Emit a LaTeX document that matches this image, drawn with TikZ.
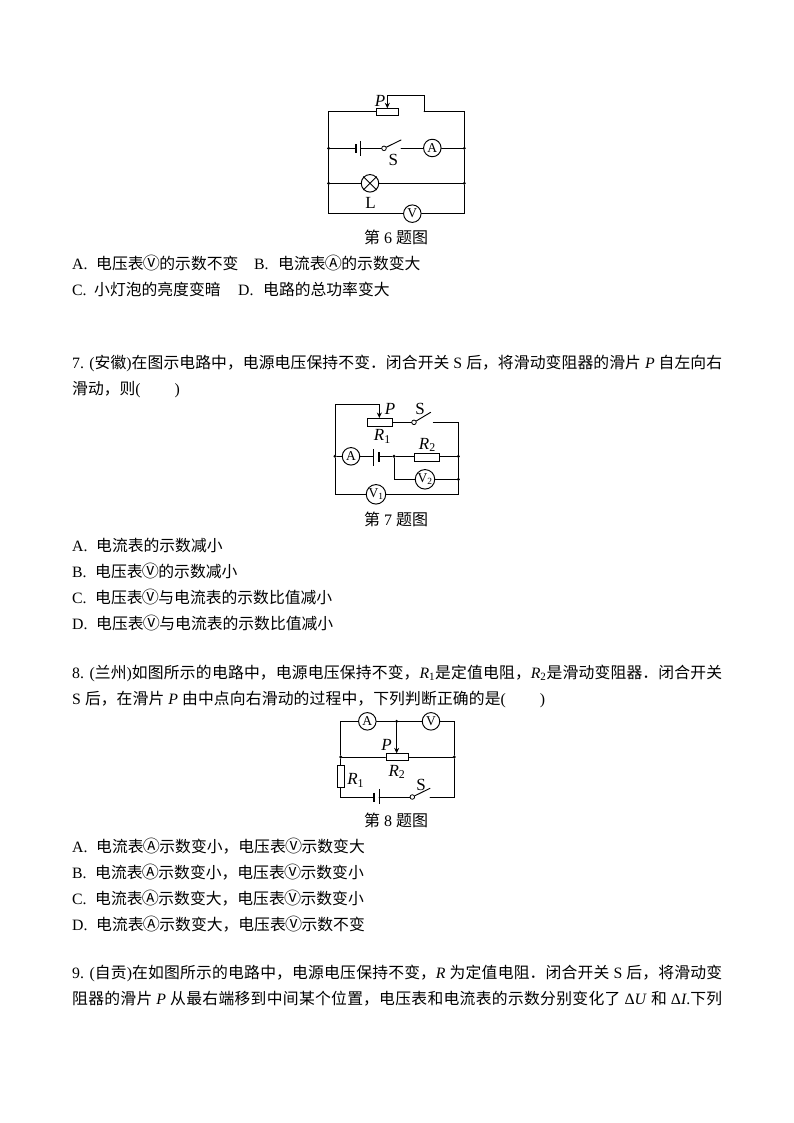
\documentclass[tikz,border=0pt]{standalone}
\usepackage{fontspec}
\setmainfont{Liberation Serif}
\newfontfamily\cjk{Noto Sans CJK SC}
\usetikzlibrary{arrows.meta}
\newcommand{\zh}[1]{{\cjk #1}}
\newcommand{\cV}{\makebox[15.8pt]{\cjk\scalebox{1.08}{Ⓥ}}}
\newcommand{\cA}{\makebox[15.8pt]{\cjk\scalebox{1.08}{Ⓐ}}}
\newcommand{\fitl}[2]{\parbox[b]{#1pt}{\tolerance=10000 \hbadness=10000 \hfuzz=20pt \parindent=0pt \parfillskip=0pt #2}}
\XeTeXlinebreaklocale "zh"
\XeTeXlinebreakskip=0pt plus 4pt minus 0.7pt
\tikzset{
 wire/.style={line width=0.95pt,line cap=round},
 arrowwire/.style={wire,-{Stealth[length=5.5pt,width=5pt]}},
 txt/.style={anchor=base west,inner sep=0pt,font=\fontsize{15.8}{18}\selectfont},
 ttl/.style={anchor=center,inner sep=0pt,font=\fontsize{16}{18}\selectfont},
 lab/.style={anchor=center,inner sep=0pt,font=\fontsize{17}{19}\selectfont},
 meter/.style={circle,draw,line width=0.95pt,inner sep=0pt,minimum size=17.5pt,font=\fontsize{13.5}{13}\selectfont,fill=white},
 jdot/.style={circle,fill=black,inner sep=0pt,minimum size=3.2pt},
 swdot/.style={circle,draw,line width=0.8pt,inner sep=0pt,minimum size=4.6pt,fill=white},
 box/.style={rectangle,draw,line width=0.95pt,inner sep=0pt,fill=white},
 plate/.style={line width=0.95pt},
 thick plate/.style={line width=1.7pt},
 zoomA/.style={shift={(300,85)},x=0.3333pt,y=-0.3333pt},
 zoomB/.style={shift={(310,395)},x=0.3333pt,y=-0.3333pt},
 zoomC/.style={shift={(320,705)},x=0.3333pt,y=-0.3333pt},
}
\begin{document}
\begin{tikzpicture}[x=1pt,y=-1pt]
\useasboundingbox[fill=white] (0,0) rectangle (794,1123);
% ---------- Figure 6
\begin{scope}[zoomA]
\coordinate (a1) at (86,80); \coordinate (a2) at (493,80);
\coordinate (a3) at (372,80); \coordinate (a4) at (372,30); \coordinate (a5) at (262,30);
\node[box,minimum width=21.7pt,minimum height=6.7pt] (arh) at (262.5,80) {};
\coordinate (arht) at (262,70);
\node[jdot] (ad1) at (86,190) {}; \node[jdot] (ad2) at (493,190) {};
\node[jdot] (ad3) at (86,295) {}; \node[jdot] (ad4) at (493,295) {};
\coordinate (a6) at (86,386); \coordinate (a7) at (493,386);
\coordinate (abL) at (168,190); \coordinate (abLt) at (168,178); \coordinate (abLb) at (168,203);
\coordinate (abR) at (182,190); \coordinate (abRt) at (182,168); \coordinate (abRb) at (182,212);
\node[swdot] (asw) at (252,190) {};
\coordinate (abl) at (303,165); \coordinate (asw2) at (303,190);
\node[meter] (aA) at (397,189) {A};
\node[meter] (aV) at (337,386) {V};
\node[circle,draw,line width=0.95pt,inner sep=0pt,minimum size=17.5pt,fill=white] (aL) at (210,295) {};
\draw[wire] (ad1) -- (a1) -- (arh.west);
\draw[wire] (a3) -- (a2) -- (ad2);
\draw[wire] (ad1) -- (ad3) -- (a6) -- (aV) -- (a7) -- (ad4) -- (ad2);
\draw[arrowwire] (a3) -- (a4) -- (a5) -- (arht);
\draw[wire] (ad1) -- (abL); \draw[wire] (abR) -- (asw);
\draw[thick plate] (abLt) -- (abLb); \draw[plate] (abRt) -- (abRb);
\draw[wire] (asw) -- (abl); \draw[wire] (asw2) -- (aA.west |- asw2); \draw[wire] (aA.east |- ad2) -- (ad2);
\draw[wire] (ad3) -- (aL) -- (ad4);
\draw[wire] (aL.45) -- (aL.225); \draw[wire] (aL.135) -- (aL.315);
\node[lab] (aPl) at (240,47) {\textit{P}};
\node[lab] (aSl) at (280,226) {S};
\node[lab] (aLl) at (212,353) {L};
\end{scope}
\node[ttl] (t6) at (396,237) {\zh{第} 6 \zh{题图}};
\node[txt] (o6a) at (72,269) {A.};
\node[txt] (o6at) at (96,269) {\zh{电压表\cV 的示数不变}};
\node[txt] (o6b) at (254,269) {B.};
\node[txt] (o6bt) at (278,269) {\zh{电流表\cA 的示数变大}};
\node[txt] (o6c) at (72,295) {C.};
\node[txt] (o6ct) at (94,295) {\zh{小灯泡的亮度变暗}};
\node[txt] (o6d) at (238,295) {D.};
\node[txt] (o6dt) at (263,295) {\zh{电路的总功率变大}};
% ---------- Question 7
\node[txt] (q7a) at (72,368) {\fitl{650}{7. (\zh{安徽})\zh{在图示电路中，电源电压保持不变．闭合开关} S \zh{后，将滑动变阻器的滑片} \textit{P} \zh{自左向右}}};
\node[txt] (q7b) at (72,394) {\zh{滑动，则}(\hspace{34pt})};
\begin{scope}[zoomB]
\coordinate (b1) at (75,28); \coordinate (b2) at (208,28); \coordinate (b3) at (208,69);
\node[box,minimum width=25pt,minimum height=7.6pt] (brh) at (209.5,82.5) {};
\node[swdot] (bsw) at (312,82) {};
\coordinate (bbl) at (362,52); \coordinate (bsw2) at (370,82); \coordinate (b4) at (445,82);
\node[jdot] (bd1) at (75,184) {}; \node[jdot] (bd2) at (252,184) {};
\node[jdot] (bd3) at (445,184) {}; \node[jdot] (bd4) at (445,253) {};
\node[meter] (bA) at (123,184) {A};
\coordinate (bbL) at (190,184); \coordinate (bbLt) at (190,163); \coordinate (bbLb) at (190,213);
\coordinate (bbR) at (206,184); \coordinate (bbRt) at (206,172); \coordinate (bbRb) at (206,200);
\node[box,minimum width=25pt,minimum height=8pt] (bR2) at (351,186) {};
\coordinate (b5) at (252,253);
\node[meter,minimum size=19.5pt] (bV2) at (345,253) {V\textsubscript{2}};
\coordinate (b6) at (75,298); \coordinate (b7) at (445,298);
\node[meter,minimum size=19.5pt] (bV1) at (198,298) {V\textsubscript{1}};
\draw[arrowwire] (bd1) -- (b1) -- (b2) -- (b3);
\draw[wire] (bd1) -- (b6) -- (bV1) -- (b7) -- (bd4) -- (bd3) -- (b4) -- (bsw2);
\draw[wire] (brh.east |- bsw) -- (bsw); \draw[wire] (bsw) -- (bbl);
\draw[wire] (bd1) -- (bA) -- (bbL);
\draw[plate] (bbLt) -- (bbLb); \draw[thick plate] (bbRt) -- (bbRb);
\draw[wire] (bbR) -- (bd2) -- (bR2.west |- bd2); \draw[wire] (bR2.east |- bd3) -- (bd3);
\draw[wire] (bd2) -- (b5) -- (bV2) -- (bd4);
\node[lab] (bPl) at (240,42) {\textit{P}};
\node[lab] (bSl) at (330,42) {S};
\node[lab] (bR1l) at (217,124) {\textit{R}\textsubscript{1}};
\node[lab] (bR2l) at (352,150) {\textit{R}\textsubscript{2}};
\end{scope}
\node[ttl] (t7) at (396,519) {\zh{第} 7 \zh{题图}};
\node[txt] (o7a) at (72,551) {A.};
\node[txt] (o7at) at (96,551) {\zh{电流表的示数减小}};
\node[txt] (o7b) at (72,577) {B.};
\node[txt] (o7bt) at (95,577) {\zh{电压表\cV 的示数减小}};
\node[txt] (o7c) at (72,603) {C.};
\node[txt] (o7ct) at (95,603) {\zh{电压表\cV 与电流表的示数比值减小}};
\node[txt] (o7d) at (72,629) {D.};
\node[txt] (o7dt) at (96,629) {\zh{电压表\cV 与电流表的示数比值减小}};
% ---------- Question 8
\node[txt] (q8a) at (72,678) {\fitl{650}{8. (\zh{兰州})\zh{如图所示的电路中，电源电压保持不变，}\textit{R}\textsubscript{1}\zh{是定值电阻，}\textit{R}\textsubscript{2}\zh{是滑动变阻器．闭合开关}}};
\node[txt] (q8b) at (72,704) {\fitl{473}{S \zh{后，在滑片} \textit{P} \zh{由中点向右滑动的过程中，下列判断正确的是}(\hspace{34pt})}};
\begin{scope}[zoomC]
\coordinate (c1) at (62,49); \coordinate (c2) at (403,49);
\node[meter] (cA) at (142,49) {A};
\node[meter] (cV) at (333,49) {V};
\node[jdot] (cd1) at (230,49) {};
\node[jdot] (cd2) at (62,156) {}; \node[jdot] (cd3) at (403,156) {};
\node[box,minimum width=22.7pt,minimum height=6.7pt] (crh) at (232,156) {};
\coordinate (c3) at (230,145);
\node[box,minimum width=7pt,minimum height=22.3pt] (cR1) at (62.5,213.5) {};
\coordinate (c4) at (62,276); \coordinate (c5) at (403,276);
\coordinate (cbL) at (162,276); \coordinate (cbLt) at (162,263); \coordinate (cbLb) at (162,290);
\coordinate (cbR) at (177,276); \coordinate (cbRt) at (177,253); \coordinate (cbRb) at (177,298);
\node[swdot] (csw) at (277,276) {};
\coordinate (cbl) at (330,250); \coordinate (csw2) at (330,276);
\draw[wire] (cd2) -- (c1) -- (cA) -- (cd1) -- (cV) -- (c2) -- (cd3);
\draw[arrowwire] (cd1) -- (c3);
\draw[wire] (cd2) -- (crh) -- (cd3);
\draw[wire] (cd2) -- (cd2 |- cR1.north); \draw[wire] (cd2 |- cR1.south) -- (c4) -- (cbL);
\draw[thick plate] (cbLt) -- (cbLb); \draw[plate] (cbRt) -- (cbRb);
\draw[wire] (cbR) -- (csw); \draw[wire] (csw) -- (cbl);
\draw[wire] (csw2) -- (c5) -- (cd3);
\node[lab] (cPl) at (200,120) {\textit{P}};
\node[lab] (cR2l) at (231,201) {\textit{R}\textsubscript{2}};
\node[lab] (cR1l) at (107,227) {\textit{R}\textsubscript{1}};
\node[lab] (cSl) at (303,240) {S};
\end{scope}
\node[ttl] (t8) at (396,820) {\zh{第} 8 \zh{题图}};
\node[txt] (o8a) at (72,852) {A.};
\node[txt] (o8at) at (96,852) {\zh{电流表\cA 示数变小，电压表\cV 示数变大}};
\node[txt] (o8b) at (72,878) {B.};
\node[txt] (o8bt) at (95,878) {\zh{电流表\cA 示数变小，电压表\cV 示数变小}};
\node[txt] (o8c) at (72,904) {C.};
\node[txt] (o8ct) at (95,904) {\zh{电流表\cA 示数变大，电压表\cV 示数变小}};
\node[txt] (o8d) at (72,930) {D.};
\node[txt] (o8dt) at (96,930) {\zh{电流表\cA 示数变大，电压表\cV 示数不变}};
% ---------- Question 9
\node[txt] (q9a) at (72,978) {\fitl{650}{9. (\zh{自贡})\zh{在如图所示的电路中，电源电压保持不变，}\textit{R} \zh{为定值电阻．闭合开关} S \zh{后，将滑动变}}};
\node[txt] (q9b) at (72,1004) {\fitl{650}{\zh{阻器的滑片} \textit{P} \zh{从最右端移到中间某个位置，电压表和电流表的示数分别变化了} Δ\textit{U} \zh{和} Δ\textit{I}.\zh{下列}}};
\end{tikzpicture}
\end{document}
